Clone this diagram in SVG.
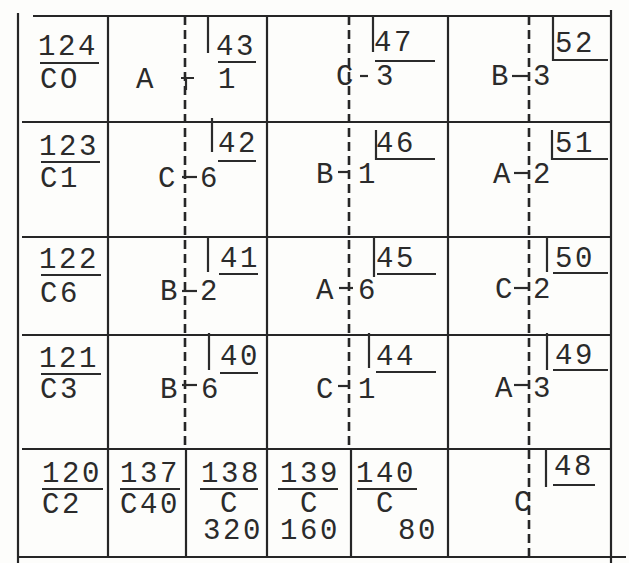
<svg xmlns="http://www.w3.org/2000/svg" width="629" height="563" viewBox="0 0 629 563">
<style>
.t{font-family:"Liberation Mono","DejaVu Sans Mono",monospace;font-size:29px;letter-spacing:2.6px;fill:#2b2b2b}
.g{stroke:#262626;stroke-width:2.2;fill:none}
.d{stroke:#262626;stroke-width:2.6;fill:none;stroke-dasharray:9 5}
.k{stroke:#2b2b2b;stroke-width:2.2;fill:none}
</style>
<rect width="629" height="563" fill="#fdfdfb"/>
<g id="grid">
<path class="g" d="M18,13V563 M33,16H612 M611,10V563 M18,557H626 M22,122H611 M22,237H611 M22,335H611 M22,449H611 M108,16V557 M267,16V557 M448,16V557 M186,449V557 M351,449V557"/>
<path class="d" d="M185,16V449 M349,16V449 M529,16V557"/>
</g>
<g id="c-124"><text class="t" x="38" y="55">124</text><path class="k" d="M40,63H99"/><text class="t" x="40" y="88">CO</text></g>
<g id="c-123"><text class="t" x="39" y="155">123</text><path class="k" d="M41,162H100"/><text class="t" x="40" y="187">C1</text></g>
<g id="c-122"><text class="t" x="39" y="268">122</text><path class="k" d="M41,275H101"/><text class="t" x="40" y="302">C6</text></g>
<g id="c-121"><text class="t" x="39" y="367">121</text><path class="k" d="M41,374H101"/><text class="t" x="40" y="398">C3</text></g>
<g id="c-120"><text class="t" x="42" y="482">120</text><path class="k" d="M42,489H103"/><text class="t" x="42" y="513">C2</text></g>
<g id="c-137"><text class="t" x="120" y="482">137</text><path class="k" d="M120,489H180"/><text class="t" x="120" y="513">C40</text></g>
<g id="c-138"><text class="t" x="201" y="482">138</text><path class="k" d="M200,489H258"/><text class="t"><tspan x="220" y="512">C</tspan><tspan x="203" y="539">320</tspan></text></g>
<g id="c-139"><text class="t" x="280" y="482">139</text><path class="k" d="M278,489H338"/><text class="t"><tspan x="300" y="512">C</tspan><tspan x="280" y="539">160</tspan></text></g>
<g id="c-140"><text class="t" x="356" y="482">140</text><path class="k" d="M357,489H417"/><text class="t"><tspan x="376" y="512">C</tspan><tspan x="398" y="539">80</tspan></text></g>
<g id="c-43"><text class="t" x="136" y="88">A</text><path class="k" d="M181,78H194 M186,78V90"/><path class="k" d="M208,16V53 M218,62H256"/><text class="t" x="216" y="55">43</text><text class="t" x="218" y="88">1</text></g>
<g id="c-47"><text class="t" x="336" y="85">C</text><path class="k" d="M360,76H368"/><text class="t" x="376" y="85">3</text><path class="k" d="M373,16V52 M375,61H435"/><text class="t" x="374" y="51">47</text></g>
<g id="c-52"><text class="t" x="491" y="85">B</text><path class="k" d="M512,76H530"/><text class="t" x="533" y="85">3</text><path class="k" d="M553,16V60H608"/><text class="t" x="555" y="52">52</text></g>
<g id="c-42"><text class="t" x="158" y="187">C</text><path class="k" d="M182,177H197"/><text class="t" x="200" y="187">6</text><path class="k" d="M212,118V152 M218,161H256"/><text class="t" x="218" y="152">42</text></g>
<g id="c-46"><text class="t" x="316" y="183">B</text><path class="k" d="M338,172H350"/><text class="t" x="358" y="183">1</text><path class="k" d="M376,130V159H435"/><text class="t" x="376" y="152">46</text></g>
<g id="c-51"><text class="t" x="493" y="183">A</text><path class="k" d="M514,173H530"/><text class="t" x="533" y="183">2</text><path class="k" d="M552,130V159H608"/><text class="t" x="555" y="152">51</text></g>
<g id="c-41"><text class="t" x="160" y="300">B</text><path class="k" d="M182,291H197"/><text class="t" x="200" y="300">2</text><path class="k" d="M208,236V272 M219,274H258"/><text class="t" x="220" y="267">41</text></g>
<g id="c-45"><text class="t" x="316" y="299">A</text><path class="k" d="M339,288H353"/><text class="t" x="358" y="299">6</text><path class="k" d="M374,236V277 M377,274H436"/><text class="t" x="376" y="267">45</text></g>
<g id="c-50"><text class="t" x="495" y="298">C</text><path class="k" d="M514,288H530"/><text class="t" x="533" y="298">2</text><path class="k" d="M547,236V272 M553,273H608"/><text class="t" x="555" y="267">50</text></g>
<g id="c-40"><text class="t" x="160" y="398">B</text><path class="k" d="M182,385H197"/><text class="t" x="201" y="398">6</text><path class="k" d="M209,333V370 M220,373H258"/><text class="t" x="220" y="365">40</text></g>
<g id="c-44"><text class="t" x="316" y="398">C</text><path class="k" d="M338,386H350"/><text class="t" x="358" y="398">1</text><path class="k" d="M369,333V368 M376,372H436"/><text class="t" x="376" y="365">44</text></g>
<g id="c-49"><text class="t" x="495" y="397">A</text><path class="k" d="M514,385H530"/><text class="t" x="533" y="397">3</text><path class="k" d="M547,333V370 M553,370H608"/><text class="t" x="555" y="364">49</text></g>
<g id="c-48"><text class="t" x="514" y="511">C</text><path class="k" d="M546,449V487 M553,485H595"/><text class="t" x="554" y="475">48</text></g>
</svg>
